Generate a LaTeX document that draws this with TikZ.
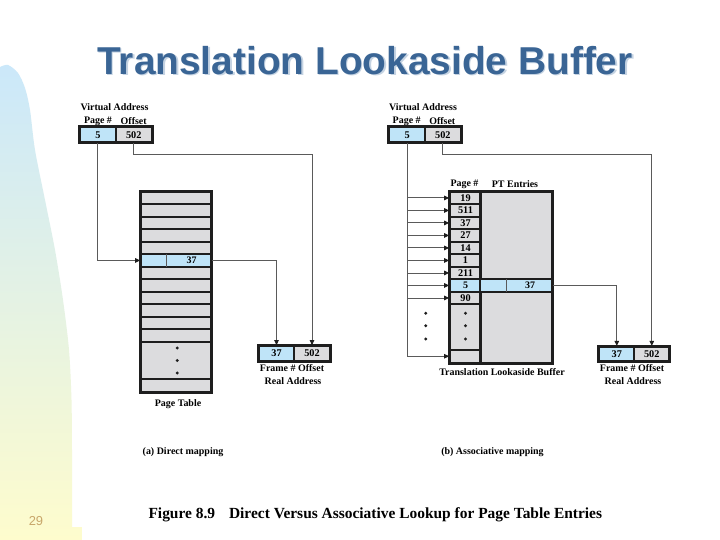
\documentclass[tikz,border=0pt]{standalone}
\usepackage{fontspec}
\setmainfont{Liberation Serif}
\newfontfamily\sansf{Liberation Sans}
\usetikzlibrary{arrows.meta}
\definecolor{cblue}{HTML}{BFE4F8}
\definecolor{cgray}{HTML}{DCDCDE}
\definecolor{dk}{HTML}{1E1E1E}
\definecolor{ln}{HTML}{5A5A5A}
\definecolor{ttl}{HTML}{3A6595}
\definecolor{shd}{HTML}{C5D3E2}
\definecolor{bgb}{HTML}{CBE8FA}
\definecolor{bgy}{HTML}{FEFCCD}
\definecolor{numc}{HTML}{C8A66A}
\begin{document}
\begin{tikzpicture}[x=1bp,y=-1bp,
  cell/.style={draw=dk, line width=1.7bp, inner sep=0pt, minimum height=12.5bp,
    font=\fontsize{10.3}{11}\selectfont\bfseries},
  gc/.style={cell, fill=cgray},
  bc/.style={cell, fill=cblue},
  frame/.style={draw=dk, line width=2.5bp},
  conn/.style={draw=ln, line width=0.9bp},
  arr/.style={conn, -{Triangle[length=5bp,width=4.5bp,color=dk]}},
  lab/.style={font=\fontsize{10}{11}\selectfont\bfseries, inner sep=0pt},
  dot/.style={fill=dk},
]
\useasboundingbox (0,0) rectangle (720,540);
\fill[white] (0,0) rectangle (720,540);
% background decoration
\shade[top color=bgb, bottom color=bgy]
  plot[smooth] coordinates {(0,67) (8,65) (18,73) (25,88) (30,110) (35,150) (45,200) (55,250) (63,300) (69,350) (71.5,400) (72,450)}
  -- (72,527) -- (82,527) -- (82,540) -- (0,540) -- cycle;
\node[font=\sansf\fontsize{13}{14}\selectfont, text=numc] (pnum) at (36,521) {29};

% title
\node[font=\sansf\bfseries\fontsize{39}{42}\selectfont, text=shd, anchor=base] (tsh) at (366.5,75.8) {Translation Lookaside Buffer};
\node[font=\sansf\bfseries\fontsize{39}{42}\selectfont, text=ttl, anchor=base] (title) at (365,74.3) {Translation Lookaside Buffer};

% ===== (a) direct mapping =====
\node[lab] (vaLt) at (114.5,107) {Virtual Address};
\node[lab] (vaLh1) at (98,121) {Page \#};
\node[lab] (vaLh2) at (133.7,121) {Offset};
\node[bc, minimum width=35.7bp, minimum height=15bp] (vaLp) at (97.85,134.8) {5};
\node[gc, minimum width=36bp, minimum height=15bp] (vaLo) at (133.7,134.8) {502};
\draw[frame] (vaLp.north west) rectangle (vaLo.south east);

\foreach \k in {0,...,11} {
  \node[gc, minimum width=70bp] (L\k) at (176,{197.95+12.5*\k}) {};
}
\node[bc, minimum width=70bp] (L5) at (176,260.45) {};
\draw[draw=ln, line width=0.6bp] (166,254.2) -- (166,266.7);
\node[lab] (L5t) at (191.7,260.45) {37};
\node[gc, minimum width=70bp, minimum height=37.5bp] (Ldots) at (176,360.45) {};
\node[gc, minimum width=70bp] (Llast) at (176,385.45) {};
\draw[frame] (L0.north west) rectangle (Llast.south east);
\fill[dot] (177.3,348) circle (1.6bp) (177.3,360.5) circle (1.6bp) (177.3,373) circle (1.6bp);
\node[lab] (ptl) at (178,404.3) {Page Table};

\node[bc, minimum width=35bp, minimum height=14.7bp] (raLf) at (276.5,353.35) {37};
\node[gc, minimum width=36bp, minimum height=14.7bp] (raLo) at (312,353.35) {502};
\draw[frame] (raLf.north west) rectangle (raLo.south east);
\node[lab] (raLh) at (292,367.7) {Frame \# Offset};
\node[lab] (raLt) at (293,380.7) {Real Address};

\draw[arr] (vaLp.south) |- (L5.west);
\draw[arr] (vaLo.south) -- ++(0,11) -| (raLo.north);
\draw[arr] (L5.east) -| (raLf.north);

\node[lab] (capa) at (183,452) {(a) Direct mapping};

% ===== (b) associative mapping =====
\node[lab] (vaRt) at (423,107) {Virtual Address};
\node[lab] (vaRh1) at (406.7,121) {Page \#};
\node[lab] (vaRh2) at (442.3,121) {Offset};
\node[bc, minimum width=35.7bp, minimum height=15bp] (vaRp) at (407.15,134.8) {5};
\node[gc, minimum width=35.7bp, minimum height=15bp] (vaRo) at (442.85,134.8) {502};
\draw[frame] (vaRp.north west) rectangle (vaRo.south east);

\node[lab] (th1) at (464.5,184) {Page \#};
\node[lab] (th2) at (515,184) {PT Entries};
\node[gc, minimum width=70.7bp, minimum height=170.8bp] (Tpt) at (516.35,277.1) {};
\foreach \v [count=\i from 0] in {19,511,37,27,14,1,211,5,90} {
  \node[gc, minimum width=31bp] (T\i) at (465.5,{197.95+12.5*\i}) {\v};
}
\node[bc, minimum width=101.7bp] (Tblue) at (500.85,285.45) {};
\draw[draw=ln, line width=0.6bp] (506,279.2) -- (506,291.7);
\node[lab] (T7t) at (465.5,285.45) {5};
\node[lab] (Tbt) at (530,285.45) {37};
\node[gc, minimum width=31bp, minimum height=45.8bp] (Tdots) at (465.5,327.1) {};
\node[gc, minimum width=31bp] (Tlast) at (465.5,356.25) {};
\draw[draw=dk, line width=1.9bp] (Tpt.north west) -- (Tpt.south west);
\draw[frame] (T0.north west) rectangle (Tpt.south east);
\foreach \yy in {313.3,325.7,339} {
  \fill[dot] (425.7,\yy) circle (1.6bp) (465.5,\yy) circle (1.6bp);
}
\node[lab] (tlbl) at (502,371.7) {Translation Lookaside Buffer};

\node[bc, minimum width=35bp, minimum height=14bp] (raRf) at (616.8,353.7) {37};
\node[gc, minimum width=35bp, minimum height=14bp] (raRo) at (651.8,353.7) {502};
\draw[frame] (raRf.north west) rectangle (raRo.south east);
\node[lab] (raRh) at (632,368.3) {Frame \# Offset};
\node[lab] (raRt) at (633,381) {Real Address};

\draw[arr] (vaRp.south) |- (Tlast.west);
\foreach \i in {0,...,6,8} {
  \draw[arr] (vaRp.south |- T\i.west) -- (T\i.west);
}
\draw[arr] (vaRp.south |- Tblue.west) -- (Tblue.west);
\draw[arr] (vaRo.south) -- ++(0,11) -| (raRo.north);
\draw[arr] (Tblue.east) -| (raRf.north);

\node[lab] (capb) at (492.5,452) {(b) Associative mapping};

% figure caption
\node[font=\fontsize{15.5}{17}\selectfont\bfseries, anchor=west] (fig) at (145,515) {Figure 8.9\hspace{0.9em}Direct Versus Associative Lookup for Page Table Entries};
\end{tikzpicture}
\end{document}
